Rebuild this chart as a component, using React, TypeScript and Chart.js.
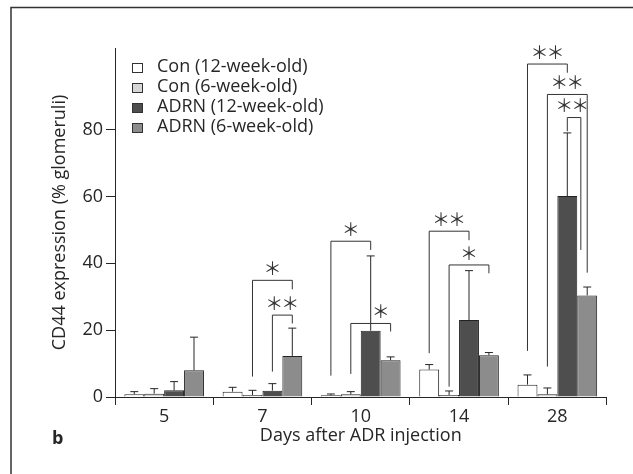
import React, { useEffect, useRef } from "react";
import { Chart, registerables } from "chart.js";

Chart.register(...registerables);

const categories = ["5", "7", "10", "14", "28"];
const seriesLabels = [
  "Con (12-week-old)",
  "Con (6-week-old)",
  "ADRN (12-week-old)",
  "ADRN (6-week-old)",
];
const con12 = [0.8, 1.6, 0.5, 8.2, 3.7];
const con6 = [1.0, 0.6, 0.8, 0.6, 0.8];
const adrn12 = [2.0, 1.9, 19.8, 23.0, 60.1];
const adrn6 = [8.0, 12.3, 11.0, 12.5, 30.4];
const con12Err = [0.8, 1.3, 0.4, 1.5, 2.9];
const con6Err = [1.5, 1.4, 0.8, 1.2, 1.9];
const adrn12Err = [2.6, 2.1, 22.4, 14.8, 18.9];
const adrn6Err = [9.9, 8.3, 1.0, 0.8, 2.5];
const yTicks = [0, 20, 40, 60, 80];

// significance brackets: category, from series, to series, top value, leg-end values, stars, label position (series units)
const bracketCat = [1, 1, 2, 2, 3, 3, 4, 4, 4];
const bracketFrom = [1, 2, 0, 1, 0, 1, 0, 1, 2];
const bracketTo = [3, 3, 2, 3, 2, 3, 2, 3, 2.68];
const bracketTop = [34.9, 24.5, 46.6, 22.0, 49.6, 39.5, 99.6, 90.5, 83.6];
const bracketFromEnd = [6.1, 7.6, 6.4, 6.9, 13.1, 3.1, 13.8, 9.1, 79.5];
const bracketToEnd = [32.2, 22.0, 44.0, 19.6, 46.9, 37.0, 97.0, 37.2, 44.0];
const bracketStars = [1, 2, 1, 1, 2, 1, 2, 2, 2];
const bracketLabelAt = [2, 2.5, 1, 2.5, 1, 2, 1, 2, 2.25];

const FONT = "'Open Sans', 'Noto Sans', sans-serif";
const INK = "#262626";

export default function App() {
  const ref = useRef<HTMLCanvasElement | null>(null);

  useEffect(() => {
    const canvas = ref.current;
    if (!canvas) return;
    const values = [con12, con6, adrn12, adrn6];
    const errs = [con12Err, con6Err, adrn12Err, adrn6Err];
    const fills = ["#ffffff", "#d6d6d6", "#4e4e4e", "#8c8c8c"];

    const extras = {
      id: "extras",
      beforeDraw(chart: any) {
        const ctx = chart.ctx;
        ctx.save();
        ctx.fillStyle = "#fff";
        ctx.fillRect(0, 0, chart.width, chart.height);
        ctx.strokeStyle = "#333";
        ctx.lineWidth = 1.5;
        ctx.beginPath();
        ctx.moveTo(11, chart.height);
        ctx.lineTo(11, 7.5);
        ctx.lineTo(chart.width, 7.5);
        ctx.stroke();
        ctx.restore();
      },
      afterDatasetsDraw(chart: any) {
        const ctx = chart.ctx;
        const y = chart.scales.y;
        const area = chart.chartArea;
        ctx.save();
        ctx.strokeStyle = INK;
        ctx.lineWidth = 1;
        // error bars
        values.forEach((_, di) => {
          const meta = chart.getDatasetMeta(di);
          meta.data.forEach((bar: any, j: number) => {
            const top = y.getPixelForValue(values[di][j] + errs[di][j]);
            ctx.beginPath();
            ctx.moveTo(bar.x, bar.y);
            ctx.lineTo(bar.x, top);
            ctx.moveTo(bar.x - 4, top);
            ctx.lineTo(bar.x + 4, top);
            ctx.stroke();
          });
        });
        // brackets
        const cx = (cat: number, s: number) => {
          const x0 = chart.getDatasetMeta(0).data[cat].x;
          const x1 = chart.getDatasetMeta(1).data[cat].x;
          return x0 + s * (x1 - x0);
        };
        ctx.strokeStyle = "#333";
        ctx.fillStyle = "#333";
        ctx.font = `18px 'Noto Sans CJK JP', sans-serif`;
        ctx.textAlign = "center";
        ctx.textBaseline = "middle";
        bracketCat.forEach((cat, k) => {
          const xa = cx(cat, bracketFrom[k]);
          const xb = cx(cat, bracketTo[k]);
          const yt = y.getPixelForValue(bracketTop[k]);
          ctx.beginPath();
          ctx.moveTo(xa, y.getPixelForValue(bracketFromEnd[k]));
          ctx.lineTo(xa, yt);
          ctx.lineTo(xb, yt);
          ctx.lineTo(xb, y.getPixelForValue(bracketToEnd[k]));
          ctx.stroke();
          const lx = cx(cat, bracketLabelAt[k]);
          const n = bracketStars[k];
          for (let i = 0; i < n; i++) {
            const sx = lx + (i - (n - 1) / 2) * 16;
            ctx.fillText("＊", sx, yt - 12);
          }
        });
        // legend
        ctx.font = `18px ${FONT}`;
        ctx.textAlign = "left";
        ctx.textBaseline = "alphabetic";
        seriesLabels.forEach((lab, i) => {
          const bx = area.left + 17;
          const by = area.top + 15 + i * 20;
          ctx.fillStyle = fills[i];
          ctx.fillRect(bx, by, 11, 10);
          ctx.strokeStyle = "#333";
          ctx.strokeRect(bx + 0.5, by + 0.5, 10, 9);
          ctx.fillStyle = INK;
          ctx.fillText(lab, bx + 25, by + 9);
        });
        // panel letter
        ctx.font = `bold 18px ${FONT}`;
        ctx.textBaseline = "middle";
        ctx.fillText("b", area.left - 63, area.bottom + 42);
        ctx.restore();
      },
    };

    const chart = new Chart(canvas, {
      type: "bar",
      data: {
        labels: categories,
        datasets: values.map((v, i) => ({
          label: seriesLabels[i],
          data: v,
          backgroundColor: fills[i],
          borderColor: "#222",
          borderWidth: 1,
          categoryPercentage: 0.81,
          barPercentage: 1,
        })),
      },
      options: {
        responsive: false,
        animation: false,
        layout: { padding: { left: 0, right: 26.5, top: 48, bottom: 0 } },
        plugins: { legend: { display: false }, tooltip: { enabled: false } },
        scales: {
          x: {
            grid: {
              offset: true,
              drawOnChartArea: false,
              drawTicks: true,
              tickLength: 8,
              color: INK,
            },
            border: { display: true, color: INK, width: 1 },
            ticks: { color: INK, font: { family: FONT, size: 18 }, padding: 1 },
            title: {
              display: true,
              text: "Days after ADR injection",
              color: INK,
              font: { family: FONT, size: 18 },
              padding: { top: 0, bottom: 27 },
            },
            afterFit(scale: any) {
              scale.height = 77;
            },
          },
          y: {
            min: 0,
            max: 104.4,
            afterBuildTicks(scale: any) {
              scale.ticks = yTicks.map((v) => ({ value: v }));
            },
            grid: {
              drawOnChartArea: false,
              drawTicks: true,
              tickLength: 9,
              color: INK,
            },
            border: { display: true, color: INK, width: 1 },
            ticks: { color: INK, font: { family: FONT, size: 18 }, padding: 3 },
            title: {
              display: true,
              text: "CD44 expression (% glomeruli)",
              color: INK,
              font: { family: FONT, size: 18 },
              padding: { top: 49, bottom: 0 },
            },
            afterFit(scale: any) {
              scale.width = 115;
            },
          },
        },
      },
      plugins: [extras],
    });
    return () => chart.destroy();
  }, []);

  return (
    <div style={{ position: "fixed", left: 0, top: 0, width: 633, height: 474, background: "#fff" }}>
      <canvas ref={ref} width={633} height={474} />
    </div>
  );
}
